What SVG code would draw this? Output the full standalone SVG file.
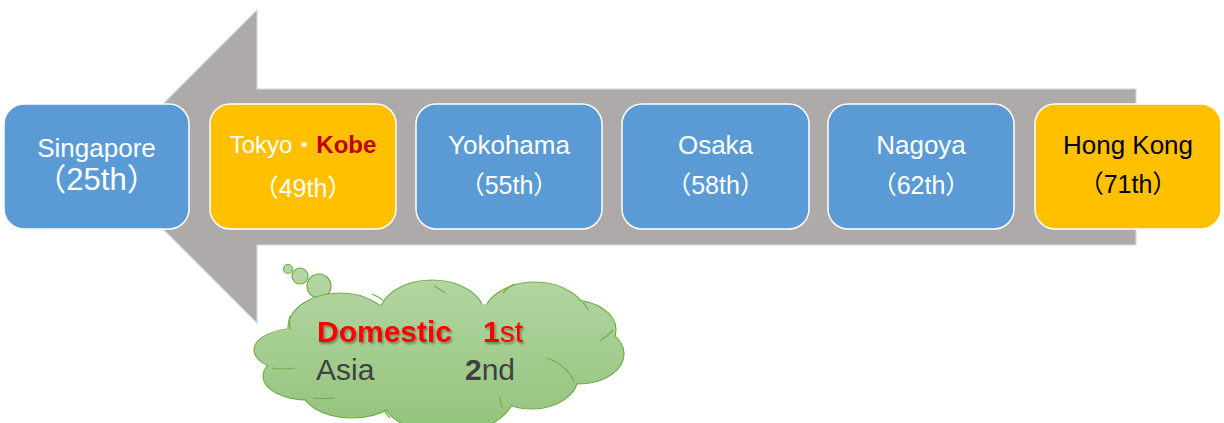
<svg xmlns="http://www.w3.org/2000/svg" width="1224" height="423" viewBox="0 0 1224 423">
  <defs>
    <linearGradient id="cloudGrad" gradientUnits="userSpaceOnUse" x1="0" y1="262" x2="0" y2="430">
      <stop offset="0" stop-color="#B6D7A6"/>
      <stop offset="1" stop-color="#94C47C"/>
    </linearGradient>
    <filter id="shadow" x="-10%" y="-30%" width="120%" height="160%">
      <feDropShadow dx="1.5" dy="2" stdDeviation="1.2" flood-color="#000" flood-opacity="0.35"/>
    </filter>
  </defs>
  <style>
    .box { stroke: #FFFFFF; stroke-width: 1.5; }
    .blue { fill: #5B9BD5; }
    .yellow { fill: #FFC000; }
    .t { font-family: "Liberation Sans", Arial, "Noto Sans CJK JP", sans-serif; text-anchor: middle; }
    .w { fill: #FFFFFF; }
    .k { fill: #000000; }
    .cl { fill: url(#cloudGrad); stroke: #70AD47; stroke-width: 1.2; }
    .clf { fill: url(#cloudGrad); stroke: none; }
    .crease { fill: none; stroke: #70AD47; stroke-width: 1.2; }
    .ct { font-family: "Liberation Sans", Arial, sans-serif; font-size: 30px; }
  </style>

  <g id="connectors">
    <path d="M100.5,166.5 L257,10 L257,89 L1136,89 L1136,245 L257,245 L257,323 Z" fill="#AEAAAA" stroke="#C5D9EE" stroke-width="1.2"/>
  </g>

  <g id="node-singapore">
    <rect class="box blue" x="4" y="104" width="185" height="125" rx="20" ry="20"/>
    <text class="t w" x="96.5" y="157" font-size="26">Singapore</text>
    <text class="t w" x="96.5" y="190" font-size="31">（25th）</text>
  </g>

  <g id="node-tokyo-kobe">
    <rect class="box yellow" x="210" y="104" width="186" height="125" rx="20" ry="20"/>
    <text class="t" x="303" y="153" font-size="24"><tspan class="w">Tokyo・</tspan><tspan fill="#C00000" font-weight="bold">Kobe</tspan></text>
    <text class="t w" x="303" y="197" font-size="25">（49th）</text>
  </g>

  <g id="node-yokohama">
    <rect class="box blue" x="416" y="104" width="186" height="125" rx="20" ry="20"/>
    <text class="t w" x="509" y="154" font-size="26">Yokohama</text>
    <text class="t w" x="509" y="194" font-size="25">（55th）</text>
  </g>

  <g id="node-osaka">
    <rect class="box blue" x="622" y="104" width="187" height="125" rx="20" ry="20"/>
    <text class="t w" x="715.5" y="154" font-size="26">Osaka</text>
    <text class="t w" x="715.5" y="194" font-size="25">（58th）</text>
  </g>

  <g id="node-nagoya">
    <rect class="box blue" x="828" y="104" width="186" height="125" rx="20" ry="20"/>
    <text class="t w" x="921" y="154" font-size="26">Nagoya</text>
    <text class="t w" x="921" y="194" font-size="25">（62th）</text>
  </g>

  <g id="node-hongkong">
    <rect class="box yellow" x="1035" y="104" width="186" height="125" rx="20" ry="20"/>
    <text class="t k" x="1128" y="154" font-size="26">Hong Kong</text>
    <text class="t k" x="1128" y="193" font-size="25">（71th）</text>
  </g>

  <g id="node-cloud">
    <circle class="cl" cx="288" cy="269" r="4.5"/>
    <circle class="cl" cx="300" cy="276" r="8"/>
    <circle class="cl" cx="319" cy="286" r="12"/>
    <!-- outlined bumps -->
    <ellipse class="cl" cx="340" cy="328" rx="52" ry="35"/>
    <ellipse class="cl" cx="432" cy="314" rx="52" ry="34"/>
    <ellipse class="cl" cx="535" cy="318" rx="52" ry="36"/>
    <ellipse class="cl" cx="572" cy="330" rx="44" ry="30"/>
    <ellipse class="cl" cx="578" cy="354" rx="46" ry="30"/>
    <ellipse class="cl" cx="532" cy="377" rx="46" ry="32"/>
    <ellipse class="cl" cx="447" cy="392" rx="68" ry="42"/>
    <ellipse class="cl" cx="352" cy="386" rx="52" ry="32"/>
    <ellipse class="cl" cx="308" cy="376" rx="45" ry="24"/>
    <ellipse class="cl" cx="300" cy="350" rx="46" ry="22"/>
    <!-- fills to hide inner outlines -->
    <ellipse class="clf" cx="340" cy="328" rx="51" ry="34"/>
    <ellipse class="clf" cx="432" cy="314" rx="51" ry="33"/>
    <ellipse class="clf" cx="535" cy="318" rx="51" ry="35"/>
    <ellipse class="clf" cx="572" cy="330" rx="43" ry="29"/>
    <ellipse class="clf" cx="578" cy="354" rx="45" ry="29"/>
    <ellipse class="clf" cx="532" cy="377" rx="45" ry="31"/>
    <ellipse class="clf" cx="447" cy="392" rx="67" ry="41"/>
    <ellipse class="clf" cx="352" cy="386" rx="51" ry="31"/>
    <ellipse class="clf" cx="308" cy="376" rx="44" ry="23"/>
    <ellipse class="clf" cx="300" cy="350" rx="45" ry="22"/>
    <ellipse class="clf" cx="440" cy="350" rx="150" ry="48"/>
    <!-- creases -->
    <path class="crease" d="M272,368 Q283,370 295,368"/>
    <path class="crease" d="M291,330 Q288,322 290,316"/>
    <path class="crease" d="M383,300 Q377,296 372,294"/>
    <path class="crease" d="M445,293 Q440,289 434,286"/>
    <path class="crease" d="M503,293 Q508,287 514,284"/>
    <path class="crease" d="M583,302 Q586,306 588,310"/>
    <path class="crease" d="M600,341 Q608,336 613,330"/>
    <path class="crease" d="M547,358 Q568,366 574,382"/>
    <path class="crease" d="M500,397 Q501,403 502,408"/>
    <path class="crease" d="M313,398 Q325,399 335,398"/>
    <path class="crease" d="M390,418 Q386,414 384,410"/>
    <text class="ct" x="317" y="342" fill="#FF0000" filter="url(#shadow)"><tspan font-weight="bold">Domestic</tspan><tspan x="483" font-weight="bold">1</tspan><tspan>st</tspan></text>
    <text class="ct" x="316" y="380" fill="#404040"><tspan>Asia</tspan><tspan x="465" font-weight="bold">2</tspan><tspan>nd</tspan></text>
  </g>
</svg>
